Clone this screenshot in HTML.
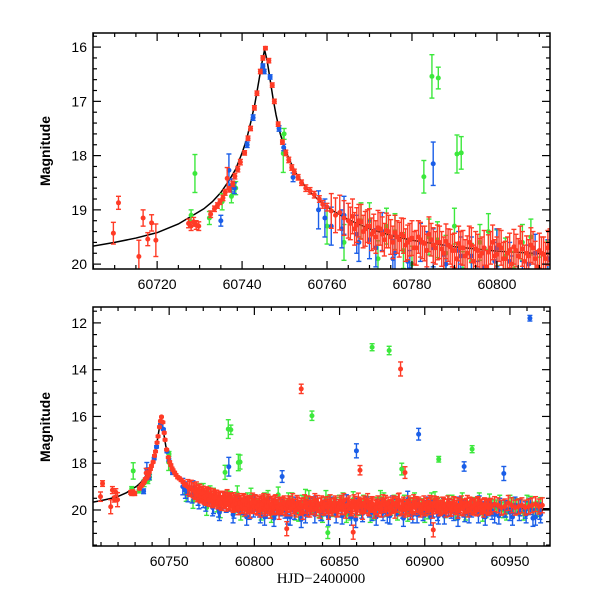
<!DOCTYPE html>
<html><head><meta charset="utf-8">
<style>
html,body{margin:0;padding:0;background:#fff;}
svg{display:block;}
text{font-family:"Liberation Sans",sans-serif;}
</style></head>
<body>
<svg id="chart" width="600" height="600" viewBox="0 0 600 600" xmlns="http://www.w3.org/2000/svg">
<defs>
<clipPath id="clipTop"><rect x="93" y="33" width="457" height="236"/></clipPath>
<clipPath id="clipBot"><rect x="93" y="307" width="457" height="239"/></clipPath>
</defs>
<g id="top"></g>
<g id="bot"></g>
<text x="50" y="151" transform="rotate(-90 50 151)" text-anchor="middle" font-size="14" font-weight="bold">Magnitude</text>
<text x="50" y="427" transform="rotate(-90 50 427)" text-anchor="middle" font-size="14" font-weight="bold">Magnitude</text>
<text x="321" y="583" text-anchor="middle" font-size="15" style="font-family:'Liberation Serif',serif">HJD−2400000</text>
</svg>
<script>
// model curve
const curveT=[60704,60710,60715,60720,60725,60728,60731,60733,60735,60737,60738.5,60740,60741,60742,60743,60744,60744.7,60745.3,60745.9,60746.6,60747.3,60748,60749,60750,60751,60752.5,60754,60756,60758,60761,60765,60770,60775,60780,60790,60800,60815,60850,60900,60975];
const curveM=[19.68,19.6,19.52,19.42,19.26,19.12,18.98,18.85,18.68,18.45,18.25,17.95,17.72,17.4,17.05,16.6,16.28,16.05,16.25,16.6,16.95,17.25,17.6,17.85,18.05,18.3,18.48,18.67,18.82,19.0,19.18,19.35,19.47,19.56,19.68,19.76,19.83,19.9,19.93,19.95];

// red series (early, peak, outliers)
const redT=[60709.7,60710.9,60715.7,60716.7,60717.8,60718.7,60719.7,60727.4,60728.0,60728.6,60729.2,60729.8,60732.6,60733.5,60734.2,60734.8,60735.5,60736.0,60736.5,60737.0,60737.8,60738.3,60739.0,60739.6,60740.6,60741.4,60742.0,60742.9,60743.5,60744.3,60744.9,60745.5,60746.3,60747.1,60747.6,60748.5,60749.5,60750.3,60751.0,60751.7,60752.3,60753.2,60754.0,60755.0,60756.0,60757.0,60758.2,60759.0,60760.0,60827.5,60885.8,60862.0,60888.4,60858.0,60819.0,60905.0];
const redM=[19.43,18.87,19.86,19.15,19.54,19.24,19.56,19.25,19.3,19.22,19.28,19.3,19.08,18.98,18.92,18.85,18.78,18.68,18.42,18.62,18.52,18.38,18.25,18.12,17.95,17.68,17.5,17.12,16.85,16.45,16.2,16.02,16.25,16.7,17.0,17.42,17.75,17.95,18.08,18.22,18.3,18.4,18.5,18.6,18.65,18.72,18.8,18.9,18.95,14.82,13.97,18.3,18.4,20.95,20.8,20.85];
const redE=[0.2,0.12,0.3,0.15,0.12,0.15,0.3,0.08,0.08,0.08,0.08,0.08,0.06,0.05,0.05,0.05,0.05,0.05,0.2,0.05,0.05,0.05,0.05,0.05,0.04,0.04,0.04,0.04,0.04,0.04,0.04,0.03,0.04,0.04,0.04,0.04,0.04,0.05,0.05,0.05,0.05,0.05,0.05,0.06,0.06,0.06,0.06,0.07,0.07,0.2,0.3,0.2,0.25,0.3,0.3,0.3];
// red dense band
const redBandT=[60761,60762,60763,60764,60765,60766,60767,60768,60769,60770,60771,60772,60773,60774,60775,60776,60777,60778,60779,60780,60781,60782,60783,60784,60785,60786,60787,60788,60789,60790,60791,60792,60793,60794,60795,60796,60797,60798,60799,60800,60801,60802,60803,60804,60805,60806,60807,60808,60809,60810,60811,60812,60813,60814,60815,60817,60819,60821,60823,60825,60827,60829,60831,60833,60835,60837,60839,60841,60843,60845,60847,60849,60851,60853,60855,60857,60859,60861,60863,60865,60867,60869,60871,60873,60875,60877,60879,60881,60883,60885,60887,60889,60891,60893,60895,60897,60899,60901,60903,60905,60907,60909,60911,60913,60915,60917,60919,60921,60923,60925,60927,60929,60931,60933,60935,60937,60939,60941,60943,60945,60947,60949,60951,60953,60955,60957,60959,60961,60963,60965,60967,60969];
const redBandM=[19.02,19.1,19.05,19.15,19.2,19.12,19.28,19.22,19.35,19.3,19.4,19.33,19.45,19.38,19.5,19.42,19.55,19.48,19.6,19.52,19.7,19.55,19.62,19.45,19.65,19.6,19.72,19.58,19.68,19.75,19.62,19.7,19.8,19.65,19.72,19.85,19.7,19.78,19.6,19.82,19.7,19.9,19.75,19.68,19.85,19.72,19.8,19.65,19.9,19.75,19.82,19.7,19.88,19.78,19.85,19.8,19.9,19.75,19.85,19.7,19.9,19.8,19.95,19.75,19.85,19.7,19.8,19.9,19.75,19.85,19.8,19.95,19.7,19.85,19.8,19.9,19.75,19.6,19.85,19.8,19.9,19.75,19.85,19.95,19.8,19.7,19.9,19.8,19.75,19.6,19.85,19.9,19.95,19.8,19.75,19.85,19.9,19.8,19.7,19.85,19.75,19.9,19.8,19.85,19.95,19.75,19.8,19.9,19.85,19.7,19.8,19.9,19.75,19.85,19.8,19.9,19.85,19.75,19.8,19.9,19.85,19.7,19.8,19.9,19.85,19.8,19.9,19.85,19.8,19.75,19.85,19.8];
const redBandE=0.32;
const redBand2T=[60765.5,60766.5,60767.5,60768.5,60769.5,60770.5,60771.5,60772.5,60773.5,60774.5,60775.5,60776.5,60777.5,60778.5,60779.5,60780.5,60781.5,60782.5,60783.5,60784.5,60785.5,60786.5,60787.5,60788.5,60789.5,
60790.5,60791.5,60792.5,60793.5,60794.5,60795.5,60796.5,60797.5,60798.5,60799.5,60800.5,60801.5,60802.5,60803.5,60804.5,60805.5,60806.5,60807.5,60808.5,60809.5,60810.5,60811.5,60812.5,60813.5,60814.5,60815.5,60816.5,60817.5,60818.5,60819.5,60820.5,60821.5,60822.5,60823.5,60824.5,60825.5,60826.5,60827.5,60828.5,60829.5,60830.5,60831.5,60832.5,60833.5,60834.5,60835.5,60836.5,60837.5,60838.5,60839.5,60840.5,60841.5,60842.5,60843.5,60844.5,60845.5,60846.5,60847.5,60848.5,60849.5,60850.5,60851.5,60852.5,60853.5,60854.5,60855.5,60856.5,60857.5,60858.5,60859.5,60860.5,60861.5,60862.5,60863.5,60864.5,60865.5,60866.5,60867.5,60868.5,60869.5,60870.5,60871.5,60872.5,60873.5,60874.5,60875.5,60876.5,60877.5,60878.5,60879.5,60880.5,60881.5,60882.5,60883.5,60884.5,60885.5,60886.5,60887.5,60888.5,60889.5,60890.5,60891.5,60892.5,60893.5,60894.5,60895.5,60896.5,60897.5,60898.5,60899.5,60900.5,60901.5,60902.5,60903.5,60904.5,60905.5,60906.5,60907.5,60908.5,60909.5,60910.5,60911.5,60912.5,60913.5,60914.5,60915.5,60916.5,60917.5,60918.5,60919.5,60920.5,60921.5,60922.5,60923.5,60924.5,60925.5,60926.5,60927.5,60928.5,60929.5,60930.5,60931.5,60932.5,60933.5,60934.5,60935.5,60936.5,60937.5,60938.5,60939.5,60940.5,60941.5,60942.5,60943.5,60944.5,60945.5,60946.5,60947.5,60948.5,60949.5,60950.5,60951.5,60952.5,60953.5,60954.5,60955.5,60956.5,60957.5,60958.5,60959.5,60960.5,60961.5,60962.5,60963.5,60964.5,60965.5,60966.5,60967.5,60968.5];
const redBand2M=[19.25,19.35,19.2,19.4,19.3,19.45,19.5,19.35,19.55,19.4,19.6,19.5,19.45,19.65,19.55,19.7,19.5,19.6,19.75,19.55,19.7,19.6,19.8,19.65,19.75,
19.9,19.7,19.85,19.6,19.95,19.75,19.8,20.05,19.7,19.85,19.65,19.9,19.8,20.0,19.75,19.6,19.95,19.85,19.7,20.05,19.8,19.9,19.65,19.85,20.1,19.75,19.9,19.7,19.95,19.8,
19.7,19.95,19.6,19.85,20.0,19.75,19.9,19.8,20.1,19.65,19.85,19.7,20.0,19.9,19.75,19.6,19.95,19.8,20.05,19.7,19.9,19.75,19.85,20.1,19.65,19.95,19.8,19.7,20.0,19.85,
19.75,19.9,19.6,20.05,19.8,19.7,19.95,19.85,19.65,20.0,19.9,19.75,19.8,20.1,19.7,19.85,19.6,19.95,19.8,19.75,20.05,19.9,19.7,19.85,20.0,19.65,19.8,19.95,19.75,19.9,
19.85,19.7,20.05,19.8,19.6,19.95,19.9,19.75,20.0,19.85,19.7,19.8,20.1,19.65,19.9,19.8,19.75,20.0,19.85,19.7,19.95,19.8,19.9,19.75,20.05,19.7,19.85,19.8,19.95,19.9,
19.75,19.85,20.0,19.7,19.8,19.95,19.85,19.75,19.9,20.05,19.8,19.7,19.95,19.85,19.8,20.0,19.75,19.9,19.85,19.8,19.95,19.75,19.9,19.85,20.0,19.8,19.85,19.9,19.8];
const redBand2E=0.3;

// blue series
const blueT=[60735.0,60736.9,60737.5,60738.2,60741.2,60742.6,60744.9,60745.2,60746.6,60748.7,60749.8,60752.0,60785.0,60961.7,60896.4,60859.9,60923.1,60946.4,60816.3];
const blueM=[19.2,18.27,18.55,18.6,17.8,17.3,16.35,16.45,16.55,17.5,17.85,18.4,18.15,11.8,16.76,17.47,18.14,18.44,18.57];
const blueE=[0.1,0.3,0.12,0.1,0.05,0.05,0.04,0.04,0.04,0.05,0.06,0.08,0.4,0.12,0.25,0.3,0.2,0.3,0.25];
const blueBandT=[60758,60761,60764,60767,60770,60773,60776,60779,60782,60785,60788,60791,60794,60797,60800,60803,60806,60809,60812,60815,60818,60821,60824,60827,60830,60833,60836,60839,60842,60845,60848,60851,60854,60857,60860,60863,60866,60869,60872,60875,60878,60881,60884,60887,60890,60893,60896,60899,60902,60905,60908,60911,60914,60917,60920,60923,60926,60929,60932,60935,60938,60941,60944,60947,60950,60953,60956,60959,60962,60965,60968];
const blueBandM=[19.0,19.3,19.1,19.45,19.55,19.4,19.8,19.95,19.6,19.7,20.0,19.75,19.85,20.05,19.7,19.95,20.3,19.8,19.9,19.85,20.0,20.3,19.8,19.95,20.2,19.85,19.75,20.1,19.9,19.8,20.2,19.95,19.7,20.3,19.85,20.0,19.8,20.1,19.9,19.95,20.2,19.75,19.85,20.0,19.55,20.2,19.9,20.1,19.8,19.95,20.25,19.85,19.9,20.1,19.8,19.95,20.2,19.85,19.75,20.0,19.9,20.2,19.85,19.95,20.1,19.8,19.9,20.0,19.85,20.3,20.2];
const blueBandE=0.35;
const blueBand2T=[60759.5,60763.5,60767.5,60771.5,60775.5,60779.5,60783.5,60787.5,60791.5,60795.5,60799.5,60803.5,60807.5,60811.5,60815.5,60819.5,60823.5,60827.5,60831.5,60835.5,60839.5,60843.5,60847.5,60851.5,60855.5,60859.5,60863.5,60867.5,60871.5,60875.5,60879.5,60883.5,60887.5,60891.5,60895.5,60899.5,60903.5,60907.5,60911.5,60915.5,60919.5,60923.5,60927.5,60931.5,60935.5,60939.5,60943.5,60947.5,60951.5,60955.5,60959.5,60963.5,60967.5];
const blueBand2M=[19.15,19.35,19.6,19.7,19.9,20.1,19.75,20.2,19.85,20.3,19.95,20.2,20.0,20.35,19.9,20.25,20.05,20.4,19.95,20.2,20.1,20.3,19.9,20.25,20.0,20.4,20.15,19.95,20.3,20.1,20.25,19.9,20.35,20.05,20.2,19.95,20.3,20.1,20.25,20.0,20.35,20.15,19.95,20.2,20.3,20.05,20.25,19.95,20.3,20.1,20.2,20.35,20.05];

// green series
const greenT=[60728.0,60728.9,60732.3,60735.3,60737.5,60738.5,60749.7,60749.9,60782.8,60784.7,60790.6,60869.1,60879.1,60833.8,60786.2,60791.6,60908.2,60927.8,60886.5,60843.1];
const greenM=[19.1,18.33,19.15,18.85,18.75,18.6,17.96,17.6,18.39,16.54,17.97,13.04,13.18,15.97,16.57,17.95,17.83,17.4,18.25,20.97];
const greenE=[0.1,0.35,0.12,0.15,0.12,0.12,0.35,0.1,0.3,0.4,0.35,0.15,0.18,0.2,0.2,0.3,0.12,0.15,0.25,0.25];
const greenBandT=[60760,60764,60768,60772,60776,60780,60784,60788,60792,60796,60800,60804,60808,60812,60816,60820,60824,60828,60832,60836,60840,60844,60848,60852,60856,60860,60864,60868,60872,60876,60880,60884,60888,60892,60896,60900,60904,60908,60912,60916,60920,60924,60928,60932,60936,60940,60944,60948,60952,60956,60960,60964,60968];
const greenBandM=[19.3,19.6,19.2,19.9,19.4,20.0,19.5,19.8,20.1,19.6,19.7,20.1,19.5,19.9,19.8,19.6,20.1,19.7,19.5,19.9,20.2,19.7,19.8,19.6,20.1,19.9,19.7,20.2,19.8,19.6,19.9,20.1,19.7,19.8,19.9,20.2,19.6,19.8,20.0,19.7,19.9,20.1,19.8,19.6,20.0,19.9,19.7,20.1,19.8,19.9,19.7,20.0,19.8];
const greenBandE=0.33;
const greenBand2T=[60770,60774,60778,60786,60790,60794,60798,60802,60806,60810,60814,60818,60822,60826,60830,60834,60838,60842,60846,60850,60854,60858,60862,60866,60870,60874,60878,60882,60890,60894,60898,60902,60906,60910,60914,60918,60922,60926,60930,60934,60938,60942,60946,60950,60954,60958,60962,60966];
const greenBand2M=[19.2,19.3,19.75,19.55,19.3,19.95,19.4,19.85,19.6,20.2,19.35,19.9,19.6,20.15,19.45,19.8,20.0,19.5,19.95,19.7,20.2,19.55,19.9,19.75,20.1,19.5,19.95,19.7,20.15,19.6,19.85,20.05,19.55,19.9,19.7,20.1,19.6,19.95,19.8,20.15,19.65,19.9,20.0,19.7,19.85,20.1,19.75,19.95];

const tickTopX=[60720,60740,60760,60780,60800];
const tickTopY=[16,17,18,19,20];
const tickBotX=[60750,60800,60850,60900,60950];
const tickBotY=[12,14,16,18,20];

const NS="http://www.w3.org/2000/svg";
function mk(tag,attrs,parent){const e=document.createElementNS(NS,tag);for(const k in attrs)e.setAttribute(k,attrs[k]);parent.appendChild(e);return e;}

const panels=[
 {g:document.getElementById('top'),name:'top',x0:93,x1:550,y0:33,y1:269,tmin:60704.9,tmax:60812.5,mtop:15.74,mbot:20.09,clip:'clipTop',xt:tickTopX,yt:tickTopY,xmin:5,ymin:0.2},
 {g:document.getElementById('bot'),name:'bottom',x0:93,x1:550,y0:307,y1:546,tmin:60705.3,tmax:60973.5,mtop:11.32,mbot:21.54,clip:'clipBot',xt:tickBotX,yt:tickBotY,xmin:10,ymin:0.5}
];

const colors={green:'#3ce83c',blue:'#1a5ee8',red:'#ff3b26'};

panels.forEach(p=>{
 const X=t=>p.x0+(t-p.tmin)/(p.tmax-p.tmin)*(p.x1-p.x0);
 const Y=m=>p.y0+(m-p.mtop)/(p.mbot-p.mtop)*(p.y1-p.y0);
 const data=mk('g',{'clip-path':'url(#'+p.clip+')'},p.g);
 
 
 let d='';curveT.forEach((t,i)=>{d+=(i?'L':'M')+X(t).toFixed(2)+','+Y(curveM[i]).toFixed(2);});
 const c=mk('path',{d:d,fill:'none',stroke:'#000','stroke-width':1.5},data);
 
 
 function drawSeries(col,T,M,E,name){
  const sg=mk('g',{},data);
  
  
  T.forEach((t,i)=>{
   const e=Array.isArray(E)?E[i]:E;
   const x=X(t),y=Y(M[i]),ya=Y(M[i]-e),yb=Y(M[i]+e);
   const pt=mk('g',{stroke:col,'stroke-width':1.4,fill:col},sg);
   
   
   mk('line',{x1:x,x2:x,y1:ya,y2:yb},pt);
   mk('line',{x1:x-2.5,x2:x+2.5,y1:ya,y2:ya},pt);
   mk('line',{x1:x-2.5,x2:x+2.5,y1:yb,y2:yb},pt);
   mk('circle',{cx:x,cy:y,r:2.5,stroke:'none'},pt);
  });
 }
 drawSeries(colors.green,greenBandT,greenBandM,greenBandE,'green-band');
 drawSeries(colors.green,greenBand2T,greenBand2M,greenBandE,'green-band-2');
 drawSeries(colors.green,greenT,greenM,greenE,'green');
 drawSeries(colors.blue,blueBandT,blueBandM,blueBandE,'blue-band');
 drawSeries(colors.blue,blueBand2T,blueBand2M,blueBandE,'blue-band-2');
 drawSeries(colors.blue,blueT,blueM,blueE,'blue');
 drawSeries(colors.red,redBandT,redBandM,redBandE,'red-band');
 drawSeries(colors.red,redBand2T,redBand2M,redBand2E,'red-band-2');
 drawSeries(colors.red,redT,redM,redE,'red');
 const fr=mk('rect',{x:p.x0,y:p.y0,width:p.x1-p.x0,height:p.y1-p.y0,fill:'none',stroke:'#000','stroke-width':1.5},p.g);
 
 
 const ax=mk('g',{stroke:'#000','stroke-width':1.2},p.g);
 
 
 const step=p.xt[1]-p.xt[0];
 const startX=Math.ceil(p.tmin/p.xmin)*p.xmin;
 for(let t=startX;t<=p.tmax;t+=p.xmin){
  const r=(t-p.xt[0])/step;
  const major=Math.abs(r-Math.round(r))<1e-6;
  const L=major?8:4,x=X(t);
  mk('line',{x1:x,x2:x,y1:p.y1,y2:p.y1-L},ax);
  mk('line',{x1:x,x2:x,y1:p.y0,y2:p.y0+L},ax);
 }
 const startY=Math.ceil(p.mtop/p.ymin-1e-9)*p.ymin;
 for(let m=startY;m<=p.mbot+1e-9;m+=p.ymin){
  const r=(m-p.yt[0])/(p.yt[1]-p.yt[0]);
  const major=Math.abs(r-Math.round(r))<1e-6;
  const L=major?8:4,y=Y(m);
  mk('line',{x1:p.x0,x2:p.x0+L,y1:y,y2:y},ax);
  mk('line',{x1:p.x1,x2:p.x1-L,y1:y,y2:y},ax);
 }
 p.xt.forEach(t=>{
  const tx=mk('text',{x:X(t),y:p.y1+20,'text-anchor':'middle','font-size':14},p.g);
  tx.textContent=String(t);
  
  
 });
 p.yt.forEach(m=>{
  const tx=mk('text',{x:p.x0-6,y:Y(m)+5,'text-anchor':'end','font-size':14},p.g);
  tx.textContent=String(m);
  
  
 });
});
</script>
</body></html>
